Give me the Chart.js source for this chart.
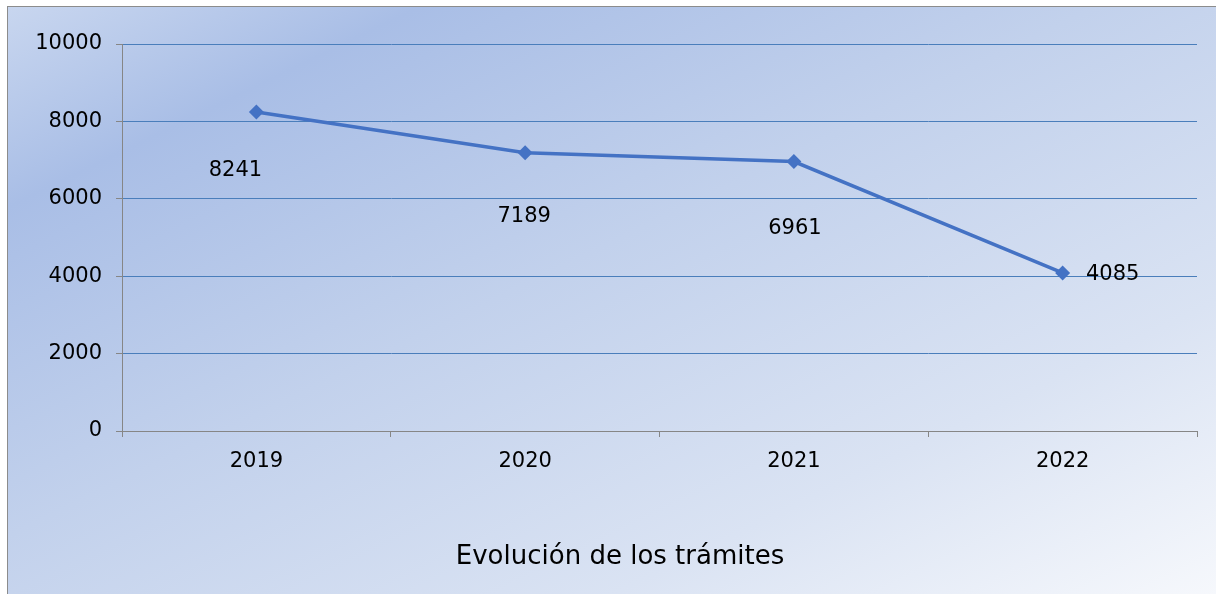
<!DOCTYPE html>
<html>
<head>
<meta charset="utf-8">
<script src="https://cdn.jsdelivr.net/npm/chart.js@4"></script>
<style>
  html, body { margin: 0; padding: 0; background: #fff; }
  #wrap { position: relative; width: 1216px; height: 594px; overflow: hidden; }
  #bg {
    position: absolute; left: 7px; top: 6px; width: 1209px; height: 588px;
    border-left: 1px solid #8c8c8c; border-top: 1px solid #8c8c8c;
    background: linear-gradient(to bottom right, #c8d6ef 0%, #a9bee6 17%, #c2d1ec 45%, #dae3f3 75%, #f6f8fc 100%);
  }
  #chart { position: absolute; left: 0; top: 0; }
</style>
</head>
<body>
<div id="wrap">
  <div id="bg"></div>
  <canvas id="chart" width="1216" height="594"></canvas>
</div>
<script>
  // ------------- Datos -------------
  const years    = ['2019', '2020', '2021', '2022'];
  const tramites = [8241, 7189, 6961, 4085];
  const yTicks   = [0, 2000, 4000, 6000, 8000, 10000];
  const titulo   = 'Evolución de los trámites';

  const FONT = "'DejaVu Sans', Verdana, sans-serif";

  // etiquetas de valor (desplazadas como en el original) + título abajo
  const labelShift = [[-21, 58], [-1, 64], [1, 67], [50, 2]];
  const valueLabels = {
    id: 'valueLabels',
    afterDatasetsDraw(chart) {
      const ctx = chart.ctx;
      const meta = chart.getDatasetMeta(0);
      ctx.save();
      ctx.font = '21px ' + FONT;
      ctx.fillStyle = '#000';
      ctx.textAlign = 'center';
      ctx.textBaseline = 'middle';
      meta.data.forEach((pt, i) => {
        const [dx, dy] = labelShift[i];
        ctx.fillText(String(tramites[i]), pt.x + dx, pt.y + dy);
      });
      ctx.font = '26px ' + FONT;
      ctx.fillText(titulo, chart.width / 2 + 12, 557);
      ctx.restore();
    }
  };

  new Chart(document.getElementById('chart'), {
    type: 'line',
    data: {
      labels: years,
      datasets: [{
        data: tramites,
        borderColor: '#4472c4',
        backgroundColor: '#4472c4',
        borderWidth: 3.5,
        pointStyle: 'rectRot',
        pointRadius: 7.5,
        pointBorderWidth: 0,
        tension: 0
      }]
    },
    options: {
      responsive: false,
      animation: false,
      layout: { padding: { left: 0, top: 44, right: 19, bottom: 51 } },
      plugins: {
        legend: { display: false },
        tooltip: { enabled: false },
        title: { display: false }
      },
      scales: {
        x: {
          offset: true,
          grid: {
            offset: true,
            drawOnChartArea: false,
            drawTicks: true,
            tickLength: 6,
            color: '#868686',
            tickColor: '#868686'
          },
          border: { color: '#868686', width: 1 },
          ticks: { color: '#000', font: { family: FONT, size: 21 }, padding: 12, maxRotation: 0 },
          afterFit(axis) { axis.height = 112; }
        },
        y: {
          min: 0,
          max: 10000,
          afterBuildTicks(axis) { axis.ticks = yTicks.map(v => ({ value: v })); },
          grid: {
            color: '#4a7ebb',
            tickColor: '#868686',
            tickLength: 6,
            lineWidth: 1
          },
          border: { color: '#868686', width: 1 },
          ticks: {
            color: '#000',
            font: { family: FONT, size: 21 },
            padding: 14,
            callback: v => String(v)
          },
          afterFit(axis) { axis.width = 122; }
        }
      }
    },
    plugins: [valueLabels]
  });
</script>
</body>
</html>
